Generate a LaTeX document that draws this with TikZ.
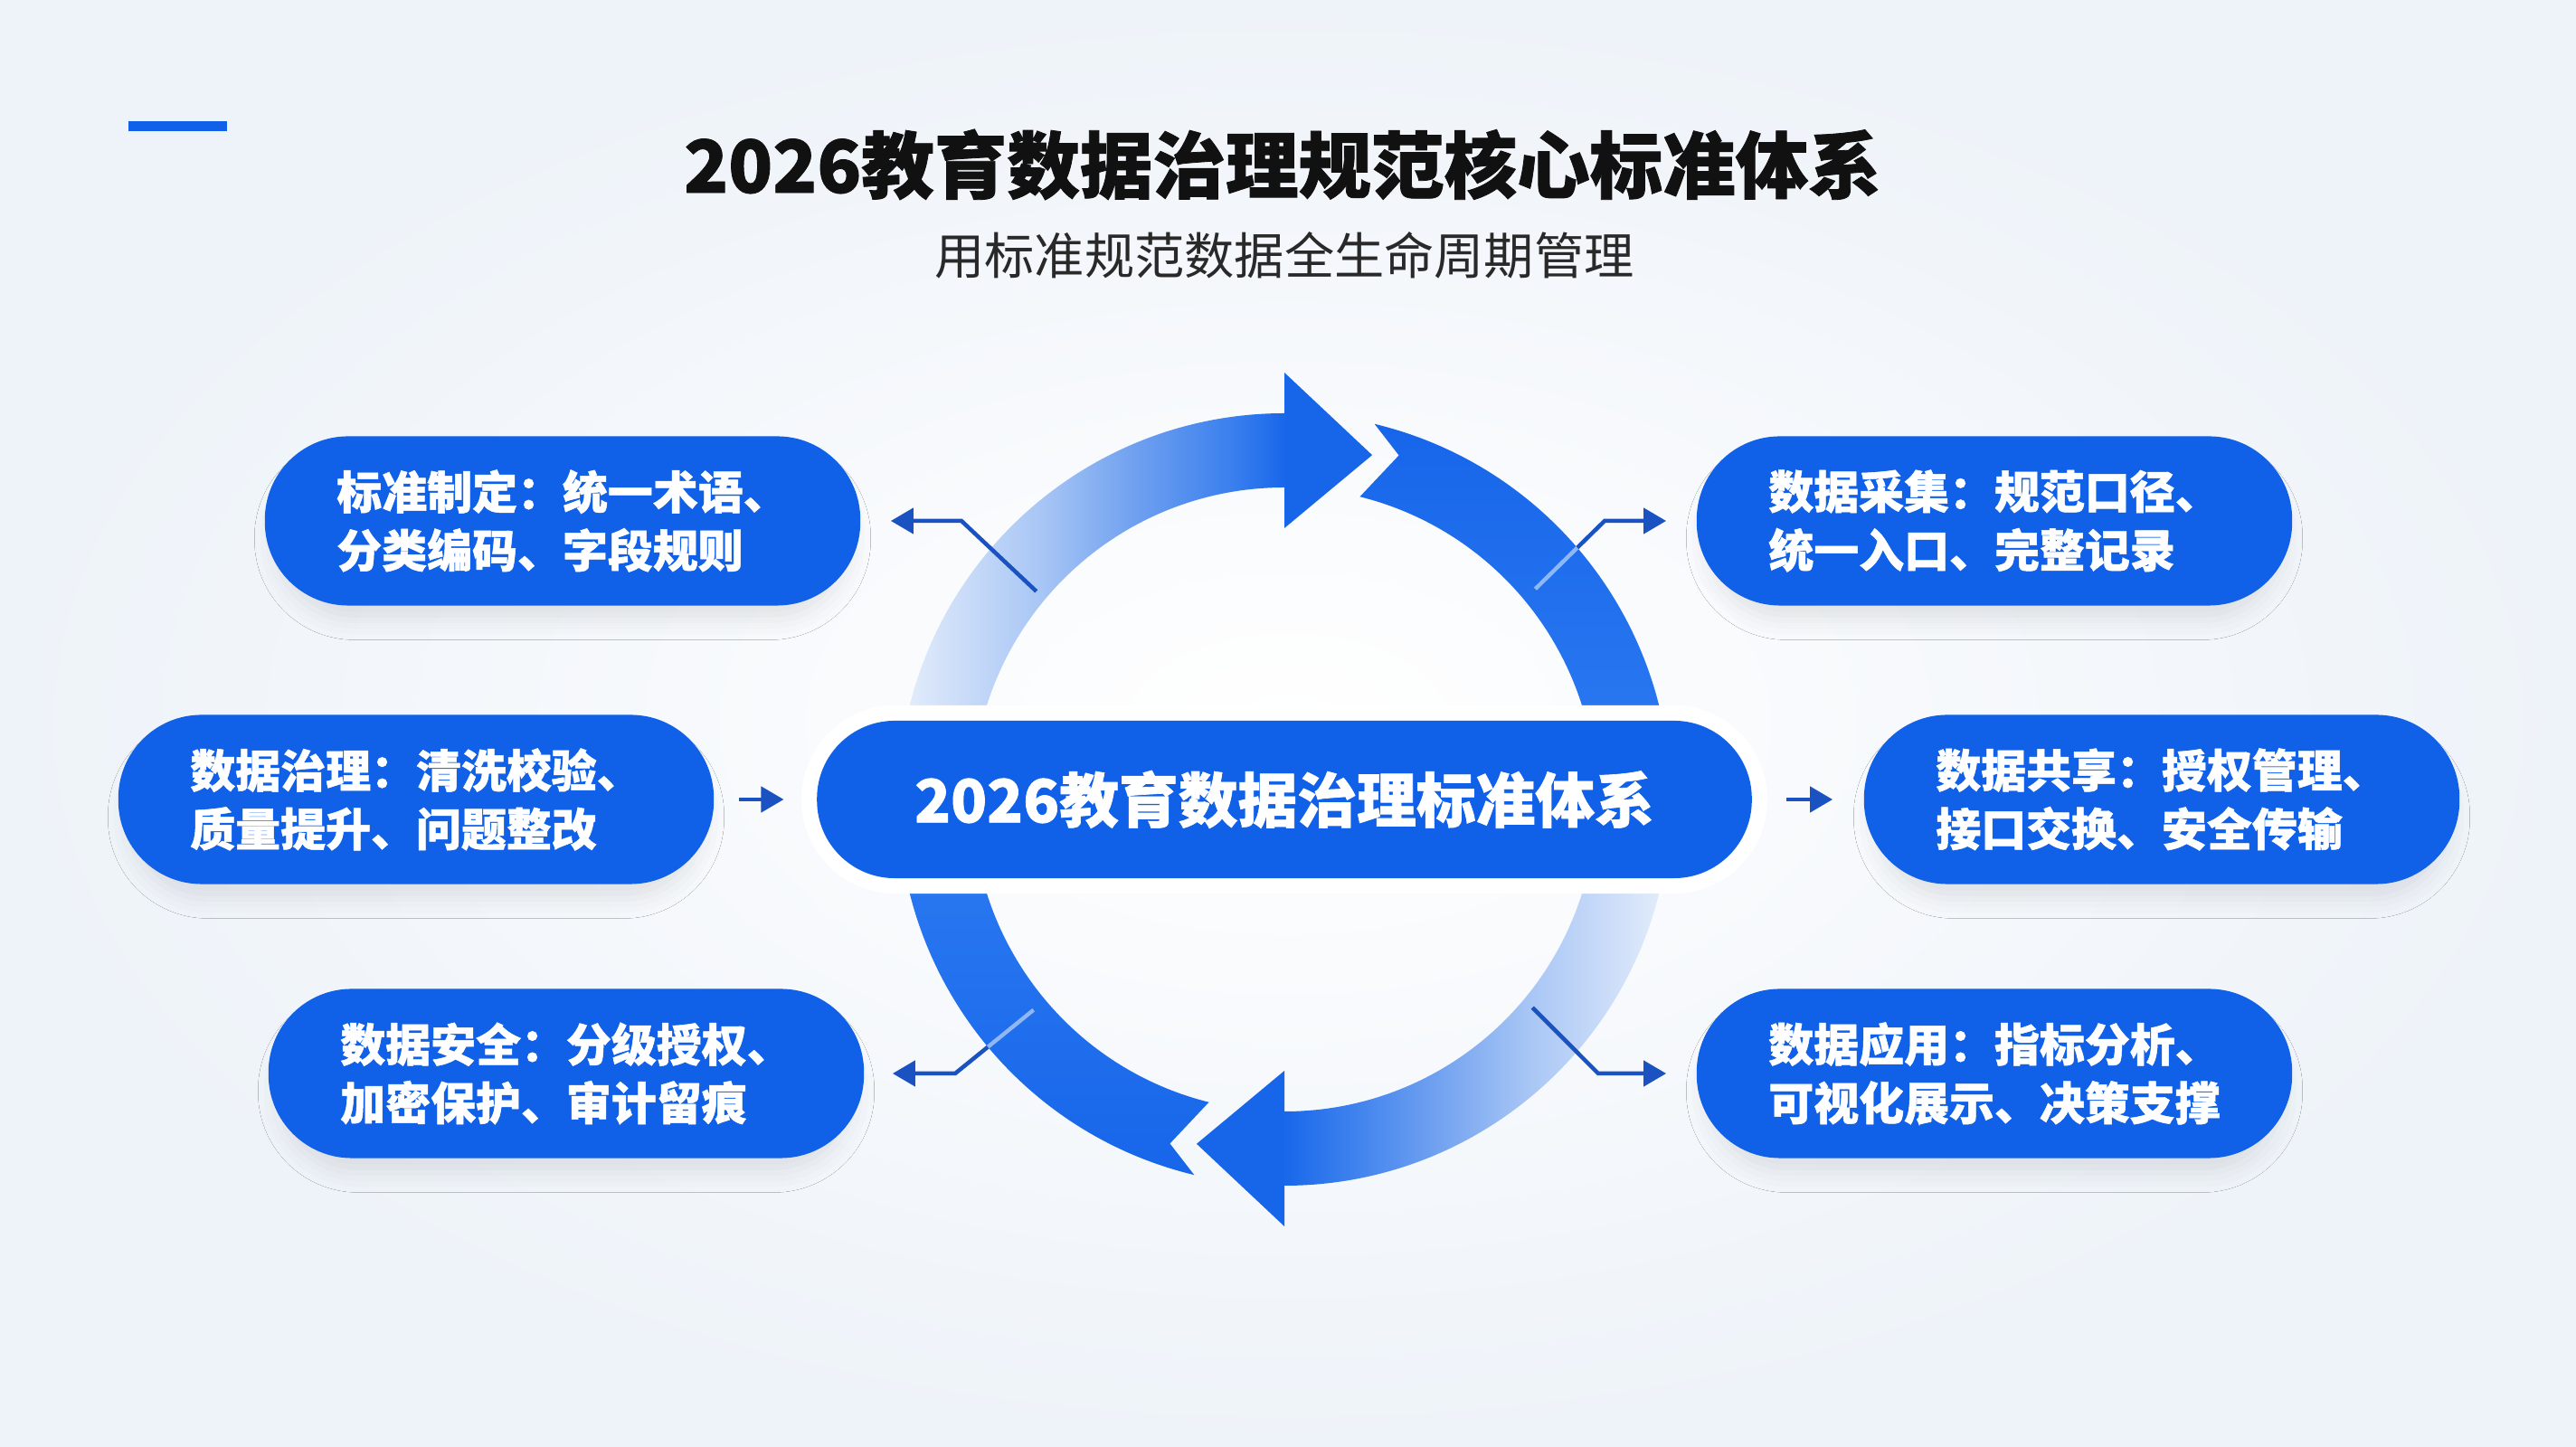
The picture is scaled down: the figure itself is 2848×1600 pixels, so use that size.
\documentclass[tikz,border=0pt]{standalone}
\usepackage{fontspec}
\setmainfont{Noto Sans CJK SC}[BoldFeatures={FakeBold=1}]
\usetikzlibrary{calc,arrows.meta,shadows.blur}
\definecolor{pillblue}{HTML}{1061E8}
\definecolor{ringblue}{HTML}{1766EA}
\definecolor{ringsoft}{HTML}{2E7CF2}
\definecolor{ringlight}{HTML}{E6EEFB}
\definecolor{ringpale}{HTML}{A8C6F5}
\definecolor{ringmid}{HTML}{6FA0F0}
\definecolor{ringdeep}{HTML}{3B80EE}
\definecolor{connblue}{HTML}{1A52C2}
\definecolor{connlight}{HTML}{8EB7F6}
\definecolor{inkdark}{HTML}{111111}
\definecolor{bgtint}{HTML}{EEF3F9}
\pgfdeclarehorizontalshading{fadeTL}{100bp}{color(0bp)=(ringlight); color(25bp)=(ringlight); color(40bp)=(ringpale); color(50bp)=(ringmid); color(60bp)=(ringdeep); color(66bp)=(ringblue); color(100bp)=(ringblue)}
\pgfdeclarehorizontalshading{fadeBR}{100bp}{color(0bp)=(ringblue); color(34bp)=(ringblue); color(41bp)=(ringdeep); color(50bp)=(ringmid); color(60bp)=(ringpale); color(75bp)=(ringlight); color(100bp)=(ringlight)}
\newcommand\ringTL{($(C)+(178:427)$) arc[start angle=178,end angle=90,radius=427] -- ($(C)+(90:472)$) -- ($(C)+(75.7:393)$) -- ($(C)+(90:300)$) -- ($(C)+(90:345)$) arc[start angle=90,end angle=178,radius=345] -- cycle}
\newcommand\ringTR{($(C)+(76.5:427)$) arc[start angle=76.5,end angle=-2,radius=427] -- ($(C)+(-2:345)$) arc[start angle=-2,end angle=76,radius=345] -- ($(C)+(71.6:401)$) -- cycle}
\newcommand\ringBR{($(C)+(-2:427)$) arc[start angle=-2,end angle=-90,radius=427] -- ($(C)+(-90:472)$) -- ($(C)+(-104.3:393)$) -- ($(C)+(-90:300)$) -- ($(C)+(-90:345)$) arc[start angle=-90,end angle=-2,radius=345] -- cycle}
\newcommand\ringBL{($(C)+(256.5:427)$) arc[start angle=256.5,end angle=178,radius=427] -- ($(C)+(178:345)$) arc[start angle=178,end angle=256,radius=345] -- ($(C)+(251.6:401)$) -- cycle}
\tikzset{
  heading/.style={text=inkdark,font=\bfseries\fontsize{22.9pt}{28pt}\selectfont},
  subheading/.style={text=inkdark!90,font=\fontsize{15.7pt}{19pt}\selectfont},
  pill/.style={fill=pillblue,rounded corners=0.92cm,minimum width=6.58cm,minimum height=1.87cm,
    inner sep=0pt,text=white,align=left,font=\bfseries\fontsize{14.2pt}{18.4pt}\selectfont,
    blur shadow={shadow xshift=0pt,shadow yshift=-0.2cm,shadow scale=0.97,shadow opacity=9,shadow blur radius=0.22cm}},
  hub/.style={fill=pillblue,rounded corners=0.86cm,minimum width=10.33cm,minimum height=1.74cm,
    inner sep=0pt,text=white,font=\bfseries\fontsize{18.7pt}{22pt}\selectfont,
    preaction={draw=white,line width=0.34cm}},
  conn/.style={draw=connblue,line width=0.045cm,-{Triangle[length=0.25cm,width=0.28cm]}},
  connlit/.style={draw=connlight,line width=0.045cm}
}
\begin{document}
\begin{tikzpicture}[x=0.01cm,y=0.01cm]
\useasboundingbox (0,0) rectangle (2848,1600);
\shade[inner color=white,outer color=bgtint] (0,0) rectangle (2848,1600);
\fill[pillblue] (142,1455) rectangle (251,1466);
\node[heading] (ttl) at (1418,1418) {2026教育数据治理规范核心标准体系};
\node[subheading] (sub) at (1420,1318) {用标准规范数据全生命周期管理};
\coordinate (C) at (1420,716);
\shade[shading=fadeTL] \ringTL;
\shade[top color=ringblue,bottom color=ringsoft] \ringTR;
\shade[shading=fadeBR] \ringBR;
\shade[top color=ringsoft,bottom color=ringblue] \ringBL;
\node[hub] (hub) at (C) {2026教育数据治理标准体系};
\node[pill] (pTL) at (622,1024) {标准制定：统一术语、\\分类编码、字段规则}; \node[pill] (pTR) at (2205,1024) {数据采集：规范口径、\\统一入口、完整记录};
\node[pill] (pML) at (460,716) {数据治理：清洗校验、\\质量提升、问题整改}; \node[pill] (pMR) at (2390,716) {数据共享：授权管理、\\接口交换、安全传输};
\node[pill] (pBL) at (626,413) {数据安全：分级授权、\\加密保护、审计留痕}; \node[pill] (pBR) at (2205,413) {数据应用：指标分析、\\可视化展示、决策支撑};
\coordinate (sTL) at ($(C)+(140:358)$); \coordinate (bTL) at (1063,1024);
\coordinate (sTR) at ($(C)+(40:362)$); \coordinate (bTR) at (1774,1024);
\coordinate (sBL) at ($(C)+(220:362)$); \coordinate (bBL) at (1056,413);
\coordinate (sBR) at ($(C)+(-40:358)$); \coordinate (bBR) at (1767,413);
\draw[conn,shorten >=0.33cm] (sTL) -- (bTL) -- (pTL.east);
\draw[conn,shorten >=0.33cm] (sTR) -- (bTR) -- (pTR.west);
\draw[conn,shorten >=0.31cm] (sBL) -- (bBL) -- (pBL.east);
\draw[conn,shorten >=0.33cm] (sBR) -- (bBR) -- (pBR.west);
\begin{scope} \clip \ringTR; \draw[connlit] (sTR) -- (bTR); \end{scope}
\begin{scope} \clip \ringBL; \draw[connlit] (sBL) -- (bBL); \end{scope}
\draw[conn,shorten <=0.27cm,shorten >=0.36cm] (pML.east) -- (hub.west);
\draw[conn,shorten <=0.375cm,shorten >=0.34cm] (hub.east) -- (pMR.west);
\end{tikzpicture}
\end{document}
